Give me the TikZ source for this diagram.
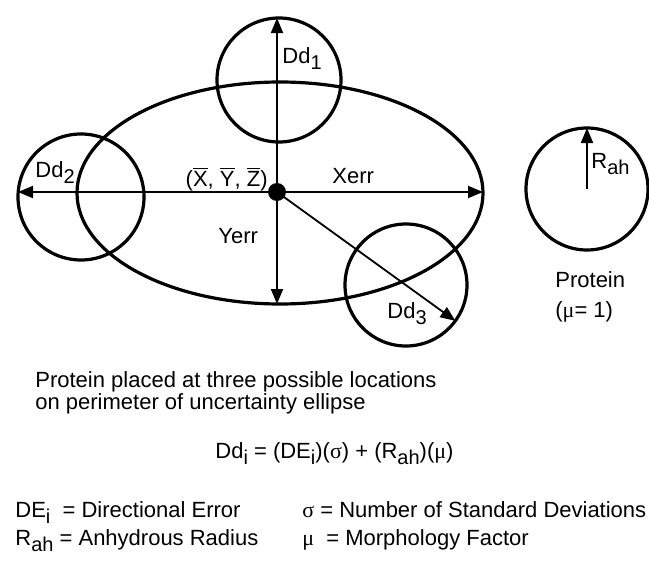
\documentclass[tikz,border=0pt]{standalone}
\usepackage{fontspec}
\setmainfont{Liberation Sans}
\newfontfamily\gorog{Liberation Serif}
\usetikzlibrary{arrows.meta,calc,shapes.geometric}
\newcommand{\al}[1]{\raisebox{-0.6ex}{\fontsize{10}{10}\selectfont #1}}
\newcommand{\vonal}[1]{$\overline{\hbox{#1}}$}
\tikzset{
  kor/.style={draw,circle,line width=1.6pt,inner sep=0pt,outer sep=0pt},
  ellipszis/.style={draw,ellipse,line width=1.6pt,inner sep=0pt,outer sep=0pt},
  mutato/.style={-{Triangle[length=7.5pt,width=6pt]},line width=0.9pt},
  felirat/.style={anchor=base west,inner sep=0pt},
  kozep/.style={circle,fill,inner sep=0pt,minimum size=9pt},
}

\begin{document}
\begin{tikzpicture}[x=0.5pt,y=-0.5pt,font=\fontsize{11}{13}\selectfont]
  \useasboundingbox (0,0) rectangle (649,562);
  % bizonytalansagi ellipszis es a harom lehetseges hely
  \coordinate (O) at (277,192);
  \node[ellipszis,minimum width=203pt,minimum height=111pt] (E) at (280,193) {};
  \node[kor,minimum size=62pt] (K1) at (279,80) {};
  \node[kor,minimum size=63pt] (K2) at (81,197) {};
  \node[kor,minimum size=61pt] (K3) at (406,285) {};
  \node[kor,minimum size=61pt] (P) at (587,189) {};
  \draw[mutato] (O) -- (O |- K1.north);
  \draw[mutato] (O) -- (O -| K2.west);
  \draw[mutato] (O) -- (O -| E.east);
  \draw[mutato] (O) -- (O |- E.south);
  \draw[mutato] (O) -- (K3.-36);
  \draw[mutato] (P.center) -- (P.north);
  \node[kozep] (Oc) at (O) {};
  % feliratok
  \node[felirat] (d1) at (282,63) {Dd\al{1}};
  \node[felirat] (d2) at (35,177) {Dd\al{2}};
  \node[felirat,anchor=base east] (xyz) at (268,186) {(\vonal{X}, \vonal{Y}, \vonal{Z})};
  \node[felirat] (xe) at (332,183) {Xerr};
  \node[felirat] (ye) at (218,243) {Yerr};
  \node[felirat] (d3) at (387,318) {Dd\al{3}};
  \node[felirat] (rah) at (591,168) {R\al{ah}};
  \node[felirat] (prot) at (555,287) {Protein};
  \node[felirat] (mu) at (555,317) {({\gorog μ}= 1)};
  % magyarazat
  \node[felirat] (t1) at (35,387) {Protein placed at three possible locations};
  \node[felirat] (t2) at (35,409) {on perimeter of uncertainty ellipse};
  \node[felirat] (eq) at (215,458) {Dd\al{i} = (DE\al{i})({\gorog σ}) + (R\al{ah})({\gorog μ})};
  \node[felirat] (l1) at (15,517) {DE\al{i} \ = Directional Error};
  \node[felirat] (l2) at (15,545) {R\al{ah} = Anhydrous Radius};
  \node[felirat] (l3) at (302,517) {{\gorog σ} = Number of Standard Deviations};
  \node[felirat] (l4) at (302,545) {{\gorog μ} \ = Morphology Factor};
\end{tikzpicture}
\end{document}
